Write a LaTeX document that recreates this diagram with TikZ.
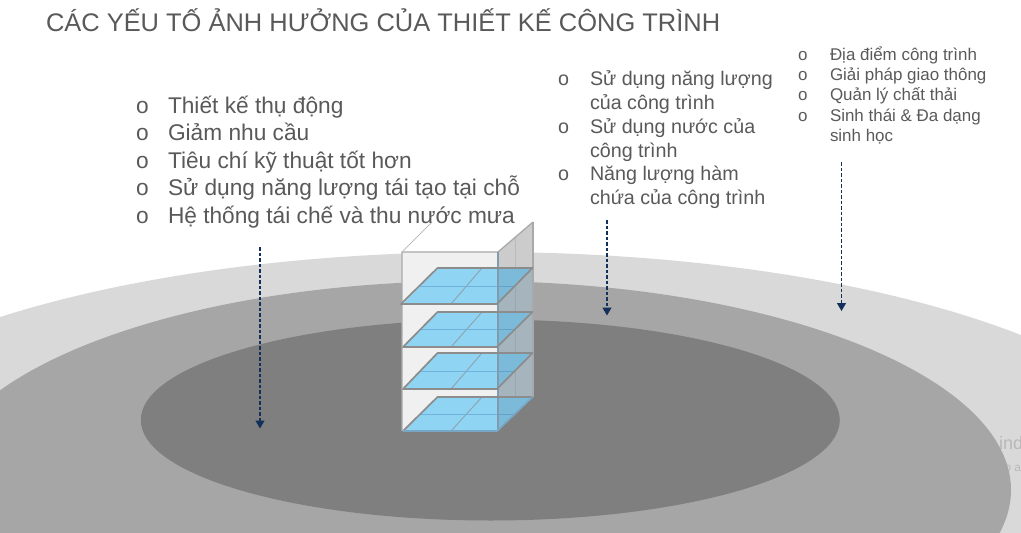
\documentclass[tikz,border=0pt]{standalone}
\usepackage{fontspec}
\setmainfont{Liberation Sans}
\usetikzlibrary{arrows.meta}
\definecolor{ringa}{HTML}{D9D9D9}
\definecolor{ringb}{HTML}{A6A6A6}
\definecolor{ringc}{HTML}{7F7F7F}
\definecolor{txt}{HTML}{595959}
\definecolor{navy}{HTML}{12305A}
\definecolor{floorfill}{HTML}{8FD5F3}
\definecolor{floorline}{HTML}{6FB2DE}
\definecolor{edge}{HTML}{8C8C8C}
\tikzset{
  every node/.style={inner sep=0pt,outer sep=0pt,anchor=base west,text=txt},
  titletext/.style={font=\fontsize{25.45}{30}\selectfont},
  big/.style={font=\fontsize{22.7}{26}\selectfont},
  mid/.style={font=\fontsize{19.7}{24}\selectfont},
  small/.style={font=\fontsize{16.95}{20}\selectfont},
  drop/.style={navy,line width=1.2pt,dash pattern=on 3.5pt off 2pt,-{Triangle[length=8pt,width=9pt]}},
  floorplate/.style={fill=floorfill,draw=none},
  flooredge/.style={draw=edge,line width=1.7pt,line join=round},
  grid/.style={floorline,line width=1pt},
  griddiag/.style={draw=edge!70!floorfill,line width=.9pt},
  ghost/.style={text=ringa!85!black,font=\fontsize{18}{20}\selectfont},
  ghostb/.style={text=ringa!85!black,font=\fontsize{11.8}{16}\selectfont},
}
\newcommand{\floorplate}[2]{%
  \fill[floorplate] (403,#1) -- (497,#1) -- (532.5,#2) -- (437.5,#2) -- cycle;
  \draw[griddiag] (451,#1) -- (482,#2);
  \draw[grid] (420,{(#1+#2)/2}) -- (515,{(#1+#2)/2});
}
\begin{document}
\begin{tikzpicture}[x=1pt,y=-1pt]
\useasboundingbox (0,0) rectangle (1021,533);
\begin{scope}
\clip (0,0) rectangle (1021,533);
\fill[ringa] (485,490) ellipse [x radius=706pt,y radius=238pt];
\node[ghost] (ghostone) at (999,449) {ind};
\node[ghostb] (ghosttwo) at (1004.5,471) {o a};
\fill[ringb] (473,490) ellipse [x radius=538pt,y radius=209pt];
\fill[ringc] (490.3,420) ellipse [x radius=349.5pt,y radius=100.5pt];

% building
\fill[white!94!black] (402,252) -- (498,252) -- (498,431) -- (402,431) -- cycle;
\fill[white,opacity=.6] (402,252) -- (498,252) -- (533,222) -- (437,222) -- cycle;
\fill[white!80!black] (498,252) -- (533,222) -- (533,397) -- (498,431) -- cycle;
\draw[edge!60!white,line width=.8pt] (515,238) -- (515,414);
\floorplate{304}{268}
\floorplate{347}{312}
\floorplate{389}{353}
\floorplate{431}{397}
\fill[black!30!floorline,opacity=.3] (498,269) -- (533,268) -- (533,397) -- (498,431) -- cycle;
\draw[edge!75!white,line width=1.3pt] (402,431) -- (402,252) -- (498,252) -- (533,222);
\draw[edge!55!white,line width=1pt] (402,252) -- (432,222);
\draw[floorline!40!edge,line width=1.1pt] (498,252) -- (498,431);
\draw[edge!75!white,line width=1.3pt] (533,222) -- (533,397);
\draw[flooredge] (401,304) -- (497,304) -- (532.5,268) -- (437.5,268) -- cycle;
\draw[flooredge] (403,347) -- (497,347) -- (532.5,312) -- (437.5,312) -- cycle;
\draw[flooredge] (403,389) -- (497,389) -- (532.5,353) -- (437.5,353) -- cycle;
\draw[edge,line width=1.7pt] (403,431) -- (437.5,397) -- (532.5,397);
\draw[floorline!70!edge,line width=1.6pt] (403,431) -- (497,431) -- (532.5,397);
\end{scope}

% title
\node[titletext] (title) at (46,31) {CÁC YẾU TỐ ẢNH HƯỞNG CỦA THIẾT KẾ CÔNG TRÌNH};

% left list
\node[big] (la) at (136,113.5) {o};
\node[big] (lat) at (168,113.5) {Thiết kế thụ động};
\node[big] (lb) at (136,140.5) {o};
\node[big] (lbt) at (168,140.5) {Giảm nhu cầu};
\node[big] (lc) at (136,168) {o};
\node[big] (lct) at (168,168) {Tiêu chí kỹ thuật tốt hơn};
\node[big] (ld) at (136,195.5) {o};
\node[big] (ldt) at (168,195.5) {Sử dụng năng lượng tái tạo tại chỗ};
\node[big] (le) at (136,223) {o};
\node[big] (let) at (168,223) {Hệ thống tái chế và thu nước mưa};

% middle list
\node[mid] (ma) at (558,85) {o};
\node[mid] (mat) at (590,85) {Sử dụng năng lượng};
\node[mid] (mat2) at (590,109) {của công trình};
\node[mid] (mb) at (558,133) {o};
\node[mid] (mbt) at (590,133) {Sử dụng nước của};
\node[mid] (mbt2) at (590,157) {công trình};
\node[mid] (mc) at (558,180) {o};
\node[mid] (mct) at (590,180) {Năng lượng hàm};
\node[mid] (mct2) at (590,204) {chứa của công trình};

% right list
\node[small] (ra) at (798,60) {o};
\node[small] (rat) at (830,60) {Địa điểm công trình};
\node[small] (rb) at (798,80) {o};
\node[small] (rbt) at (830,80) {Giải pháp giao thông};
\node[small] (rc) at (798,100) {o};
\node[small] (rct) at (830,100) {Quản lý chất thải};
\node[small] (rd) at (798,121) {o};
\node[small] (rdt) at (830,121) {Sinh thái \& Đa dạng};
\node[small] (rdt2) at (830,141) {sinh học};

% arrows
\coordinate (aone) at (260,247);
\coordinate (aonee) at (260,428.5);
\coordinate (atwo) at (607,220);
\coordinate (atwoe) at (607,315.5);
\coordinate (athree) at (841.5,162);
\coordinate (athreee) at (841.5,311);
\draw[drop] (aone) -- (aonee);
\draw[drop] (atwo) -- (atwoe);
\draw[drop] (athree) -- (athreee);
\end{tikzpicture}
\end{document}
